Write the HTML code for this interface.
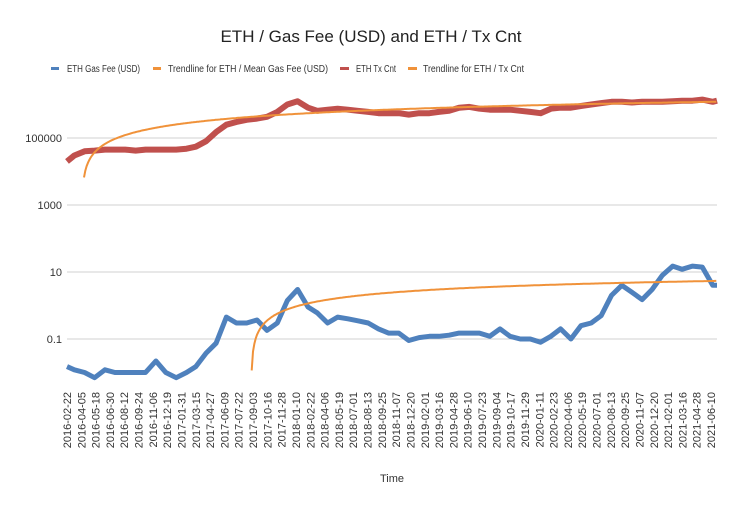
<!DOCTYPE html>
<html><head><meta charset="utf-8"><style>
body{margin:0;background:#fff;width:743px;height:510px;overflow:hidden}
svg{display:block;font-family:"Liberation Sans",sans-serif}
</style></head><body>
<svg id="chart" width="743" height="510">
<text x="371" y="42" text-anchor="middle" font-size="17" fill="#222">ETH / Gas Fee (USD) and ETH / Tx Cnt</text>
<g font-size="10" fill="#333">
<g><rect x="51" y="67" width="8" height="3" fill="#4f81bd"/><text x="67" y="72" textLength="73" lengthAdjust="spacingAndGlyphs">ETH Gas Fee (USD)</text></g>
<g><rect x="153" y="67" width="8" height="3" fill="#f0923a"/><text x="168" y="72" textLength="160" lengthAdjust="spacingAndGlyphs">Trendline for ETH / Mean Gas Fee (USD)</text></g>
<g><rect x="340" y="67" width="9" height="3" fill="#c0504d"/><text x="356" y="72" textLength="40" lengthAdjust="spacingAndGlyphs">ETH Tx Cnt</text></g>
<g><rect x="408" y="67" width="9" height="3" fill="#f0923a"/><text x="423" y="72" textLength="101" lengthAdjust="spacingAndGlyphs">Trendline for ETH / Tx Cnt</text></g>
</g>
<g id="grid"></g>
<g id="yaxis"></g>
<g id="xaxis"></g>
<g id="series"></g>
<text x="392" y="482" text-anchor="middle" font-size="11" fill="#333">Time</text>
</svg>
<script>
const months = ["2016-02-22","2016-03-15","2016-04-15","2016-05-15","2016-06-15","2016-07-15","2016-08-15","2016-09-15","2016-10-15","2016-11-15","2016-12-15","2017-01-15","2017-02-15","2017-03-15","2017-04-15","2017-05-15","2017-06-15","2017-07-15","2017-08-15","2017-09-15","2017-10-15","2017-11-15","2017-12-15","2018-01-15","2018-02-15","2018-03-15","2018-04-15","2018-05-15","2018-06-15","2018-07-15","2018-08-15","2018-09-15","2018-10-15","2018-11-15","2018-12-15","2019-01-15","2019-02-15","2019-03-15","2019-04-15","2019-05-15","2019-06-15","2019-07-15","2019-08-15","2019-09-15","2019-10-15","2019-11-15","2019-12-15","2020-01-15","2020-02-15","2020-03-15","2020-04-15","2020-05-15","2020-06-15","2020-07-15","2020-08-15","2020-09-15","2020-10-15","2020-11-15","2020-12-15","2021-01-15","2021-02-15","2021-03-15","2021-04-15","2021-05-15","2021-06-15","2021-06-28"];
const gasFee = [0.015,0.012,0.01,0.007,0.012,0.01,0.01,0.01,0.01,0.022,0.01,0.007,0.01,0.015,0.038,0.075,0.45,0.3,0.3,0.37,0.18,0.3,1.4,3,0.9,0.6,0.3,0.45,0.4,0.35,0.3,0.2,0.15,0.15,0.09,0.11,0.12,0.12,0.13,0.15,0.15,0.15,0.12,0.2,0.12,0.1,0.1,0.08,0.12,0.2,0.1,0.25,0.3,0.5,2,4,2.5,1.5,3,8,15,12,15,14,4,4];
const txCnt = [20000,30000,40000,42000,45000,45000,45000,42000,45000,45000,45000,45000,48000,55000,80000,150000,250000,300000,350000,380000,430000,600000,1000000,1250000,800000,650000,700000,750000,700000,650000,600000,550000,550000,550000,500000,550000,550000,600000,650000,800000,850000,750000,700000,700000,700000,650000,600000,550000,750000,800000,800000,900000,1000000,1100000,1200000,1200000,1150000,1200000,1200000,1200000,1250000,1300000,1300000,1400000,1200000,1300000];
const gasTrend = [4.3,-27.16,0,555];   // a, b, offset, start day : v=a*ln(t+offset)+b
const txTrend = [1502000,-11028000,1500,51];
const yTicks = [0.1,10,1000,100000];
const yTickLabels = ["0.1","10","1000","100000"];

const NS="http://www.w3.org/2000/svg";
const t0=Date.parse("2016-02-22");
const dayOf=s=>(Date.parse(s)-t0)/864e5;
const xS=d=>67+d*(711-67)/1935;
const yS=v=>339-33.5*(Math.log10(v)+1);
function mk(tag,attrs,parent){const e=document.createElementNS(NS,tag);for(const k in attrs)e.setAttribute(k,attrs[k]);parent.appendChild(e);return e;}
const grid=document.getElementById('grid'),ya=document.getElementById('yaxis'),xa=document.getElementById('xaxis'),ser=document.getElementById('series');
yTicks.forEach((v,i)=>{
  const l=mk('line',{x1:67,x2:717,y1:yS(v),y2:yS(v),stroke:'#d0d0d0','stroke-width':1},grid);
  
  
  const t=mk('text',{x:62,y:yS(v)+4,'text-anchor':'end','font-size':11,fill:'#333'},ya);
  t.textContent=yTickLabels[i];
  
  
});
for(let i=0;i<46;i++){
  const d=new Date(t0+i*43*864e5);const s=d.toISOString().slice(0,10);
  const x=xS(i*43)+4;
  const t=mk('text',{x:0,y:0,transform:`translate(${x},392) rotate(-90)`,'text-anchor':'end','font-size':11,fill:'#333'},xa);
  t.textContent=s;
  
  
}
function series(vals,color,w,name){
  const pts=vals.map((v,i)=>xS(dayOf(months[i])).toFixed(1)+','+yS(v).toFixed(1)).join(' ');
  const p=mk('polyline',{points:pts,fill:'none',stroke:color,'stroke-width':w,'stroke-linejoin':'round'},ser);
  
  
}
function trend(c,name){
  const pts=[];const end=dayOf(months[months.length-1]);
  for(let t=c[3];t<=end;t+=4){const v=c[0]*Math.log(t+c[2])+c[1];if(v>0)pts.push(xS(t).toFixed(1)+','+yS(v).toFixed(1));}
  const p=mk('polyline',{points:pts.join(' '),fill:'none',stroke:'#f0923a','stroke-width':2},ser);
  
  
}
series(txCnt,'#c0504d',6,'tx-count-line');
series(gasFee,'#4f81bd',5,'gas-fee-line');
trend(txTrend,'tx-trendline');
trend(gasTrend,'gas-trendline');
</script>
</body></html>
